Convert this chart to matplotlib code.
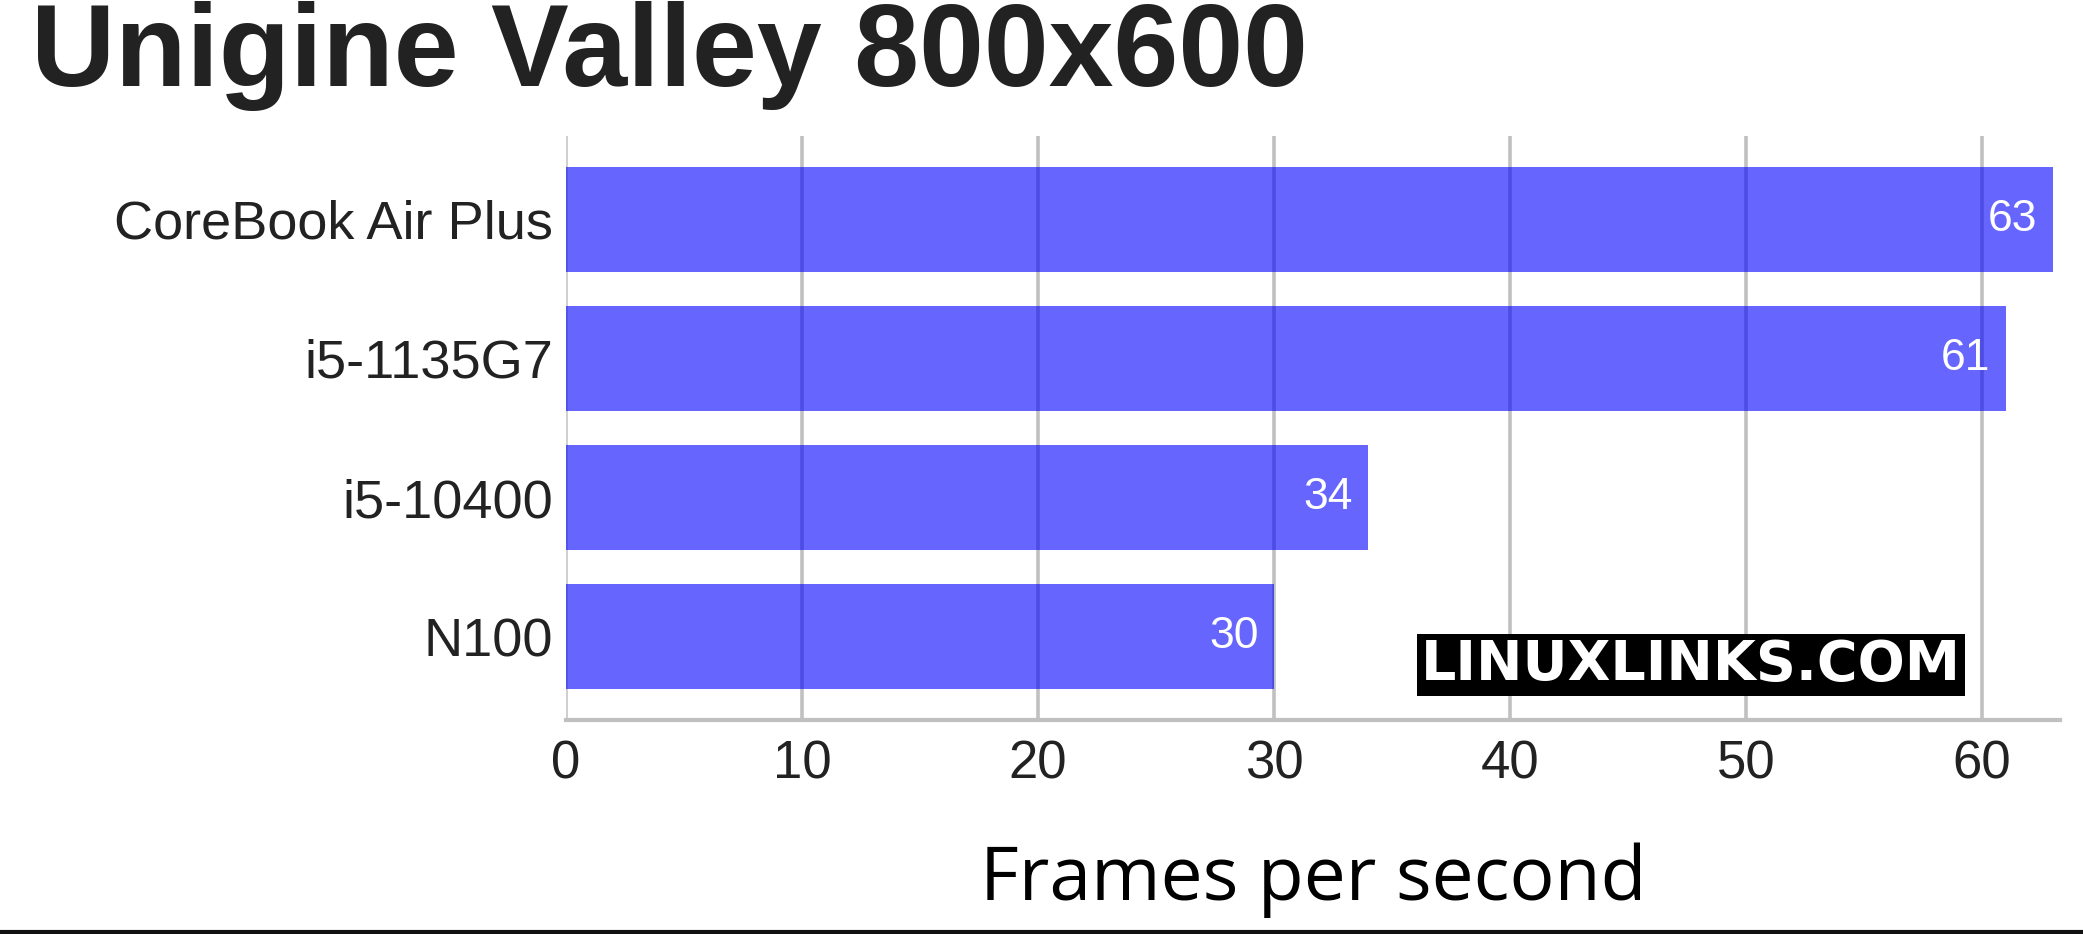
import matplotlib
matplotlib.use("Agg")
import matplotlib.pyplot as plt
from matplotlib.lines import Line2D

title = "Unigine Valley 800x600"
categories = ["N100", "i5-10400", "i5-1135G7", "CoreBook Air Plus"]
values = [30, 34, 61, 63]
xticks = [0, 10, 20, 30, 40, 50, 60]
xlabel = "Frames per second"
watermark = "LINUXLINKS.COM"

W, H = 2083, 934
fig = plt.figure(figsize=(W / 100, H / 100), dpi=100)
ax = fig.add_axes([566 / W, 1 - 720 / H, (2060 - 566) / W, (720 - 136) / H])

ypos = list(range(len(categories)))
ax.barh(ypos, values, height=0.755, color=(0, 0, 1, 0.6), zorder=3)
ax.set_xlim(0, 63.3)
ax.set_ylim(-0.6, 3.6)
ax.set_yticks(ypos)
ax.set_yticklabels(categories, family="Liberation Sans", fontsize=39, color="#222222")
ax.set_xticks(xticks)
ax.set_xticklabels([str(t) for t in xticks], family="Liberation Sans", fontsize=38, color="#222222")
ax.tick_params(axis="both", length=0)
ax.tick_params(axis="y", pad=9)
ax.tick_params(axis="x", pad=14)
ax.grid(axis="x", color="#c0c0c0", linewidth=2.6, zorder=1)
ax.set_axisbelow(True)
for s in ["top", "right", "left"]:
    ax.spines[s].set_visible(False)
ax.spines["bottom"].set_color("#c0c0c0")
ax.spines["bottom"].set_linewidth(3)
ax.axvline(0, color="#d0d0d0", linewidth=2, zorder=1)

for y, v in zip(ypos, values):
    ax.annotate(str(v), xy=(v, y), xytext=(-11, 0), textcoords="offset points",
                ha="right", va="center", color="white", fontsize=32,
                family="Liberation Sans", zorder=5)

ax.set_xlabel(xlabel, family="Open Sans", fontsize=54, color="black", labelpad=38)

fig.text(31 / W, 1 - 86 / H, title, family="Liberation Sans", fontweight="bold",
         fontsize=84, color="#222222", ha="left", va="baseline")

fig.text(1691 / W, 1 - 665 / H, watermark, family="DejaVu Sans", fontweight="bold",
         fontsize=40, color="white", ha="center", va="center",
         bbox=dict(boxstyle="square,pad=0.08", facecolor="black", edgecolor="none"),
         zorder=10)

fig.add_artist(Line2D([0, 1], [1 - 932 / H, 1 - 932 / H], transform=fig.transFigure,
                      color="#111111", linewidth=3))

fig.savefig("out.png", dpi=100, facecolor="white")
